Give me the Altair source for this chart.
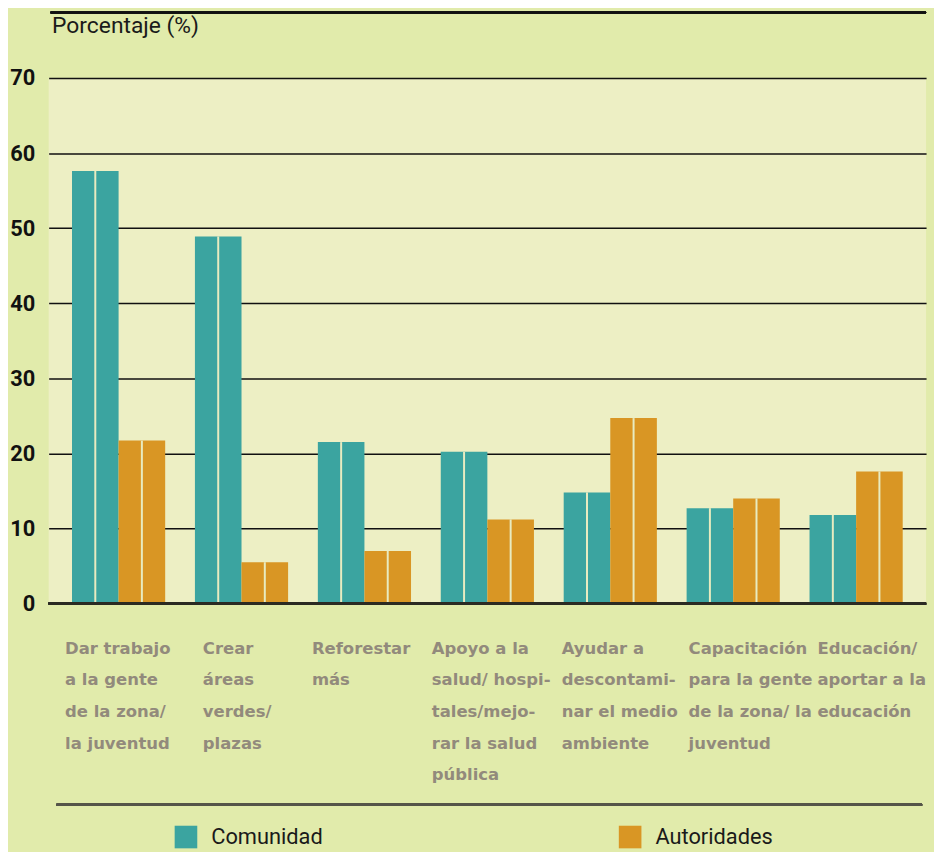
import altair as alt
import pandas as pd

categories = [
    "Dar trabajo|a la gente|de la zona/|la juventud",
    "Crear|áreas|verdes/|plazas",
    "Reforestar|más",
    "Apoyo a la|salud/ hospi-|tales/mejo-|rar la salud|pública",
    "Ayudar a|descontami-|nar el medio|ambiente",
    "Capacitación|para la gente|de la zona/ la|juventud",
    "Educación/|aportar a la|educación",
]
comunidad = [57.6, 48.9, 21.5, 20.2, 14.8, 12.7, 11.8]
autoridades = [21.7, 5.5, 7.0, 11.2, 24.7, 14.0, 17.6]
series = ["Comunidad", "Autoridades"]
colors = ["#3BA4A0", "#D99624"]
y_ticks = [0, 10, 20, 30, 40, 50, 60, 70]
label_shift = [-54, -39, -53, -56, -49, -45, -39]

OUTER_BG = "#E1EBAB"
PLOT_BG = "#EDEFC4"
W, H = 885, 530

rows = []
for c, a, b in zip(categories, comunidad, autoridades):
    rows.append({"cat": c, "serie": series[0], "valor": a})
    rows.append({"cat": c, "serie": series[1], "valor": b})
df = pd.DataFrame(rows)

label_offset = {
    "condition": [
        {"test": f"datum.value == '{c}'", "value": o}
        for c, o in zip(categories, label_shift)
    ],
    "value": -51,
}

x_enc = alt.X(
    "cat:N", sort=categories,
    scale=alt.Scale(paddingInner=0.242, paddingOuter=0.19),
    axis=alt.Axis(
        title=None, labelExpr="split(datum.label, '|')", labelAlign="left",
        labelOffset=label_offset, labelAngle=0, labelFont="DejaVu Sans",
        labelFontWeight="bold", labelFontSize=16.6, labelColor="#928A7C",
        labelLineHeight=32, labelPadding=37, labelBaseline="top",
        domain=False, ticks=False, labelLimit=0,
    ),
)
xo_enc = alt.XOffset("serie:N", sort=series, scale=alt.Scale(paddingInner=0, paddingOuter=0))
y_enc = alt.Y(
    "valor:Q", scale=alt.Scale(domain=[0, 70], nice=False),
    axis=alt.Axis(
        values=y_ticks, title="Porcentaje (%)", titleAngle=0, titleAlign="left",
        titleBaseline="alphabetic", titleX=3, titleY=-46, titleFont="Roboto",
        titleFontWeight="normal", titleFontSize=23, titleColor="#1a1a1a",
        domain=False, ticks=False, gridColor="#111111", gridWidth=1.5,
        labelFont="Roboto", labelFontWeight="bold", labelFontSize=22,
        labelColor="#111111", labelPadding=14,
    ),
)

bars = alt.Chart(df).mark_bar().encode(
    x=x_enc, xOffset=xo_enc, y=y_enc,
    color=alt.Color(
        "serie:N", sort=series, scale=alt.Scale(domain=series, range=colors),
        legend=alt.Legend(
            orient="none", legendX=127, legendY=754, direction="horizontal",
            title=None, symbolType="square", symbolSize=520, symbolStrokeWidth=0,
            symbolOpacity=1, labelFont="Roboto", labelFontSize=22,
            labelColor="#1a1a1a", labelOffset=14, columnPadding=298,
        ),
    ),
)

dividers = alt.Chart(df).mark_rule(color="#E8EBC0", strokeWidth=2).encode(
    x=alt.X("cat:N", sort=categories), xOffset=alt.XOffset("serie:N", sort=series),
    y="valor:Q", y2=alt.datum(0),
)

zero = alt.Chart(df).mark_rule(color="#2b2b22", strokeWidth=2).encode(y=alt.datum(0))

bottom_line = alt.Chart(df).mark_rule(color="#55554a", strokeWidth=2).encode(
    x=alt.value(8), x2=alt.value(881), y=alt.value(733)
)
top_line = alt.Chart(df).mark_rule(color="#111111", strokeWidth=1.5).encode(
    x=alt.value(2), x2=alt.value(885), y=alt.value(-66)
)

chart = (
    alt.layer(bars, dividers, zero, bottom_line, top_line)
    .properties(
        width=W, height=H, background=OUTER_BG,
        autosize=alt.AutoSizeParams(type="none"),
        padding={"left": 41, "top": 67, "right": 8, "bottom": 247},
    )
    .configure_view(stroke=None, fill=PLOT_BG)
)

chart.save("out.html", embed_options={"renderer": "svg", "actions": False})
